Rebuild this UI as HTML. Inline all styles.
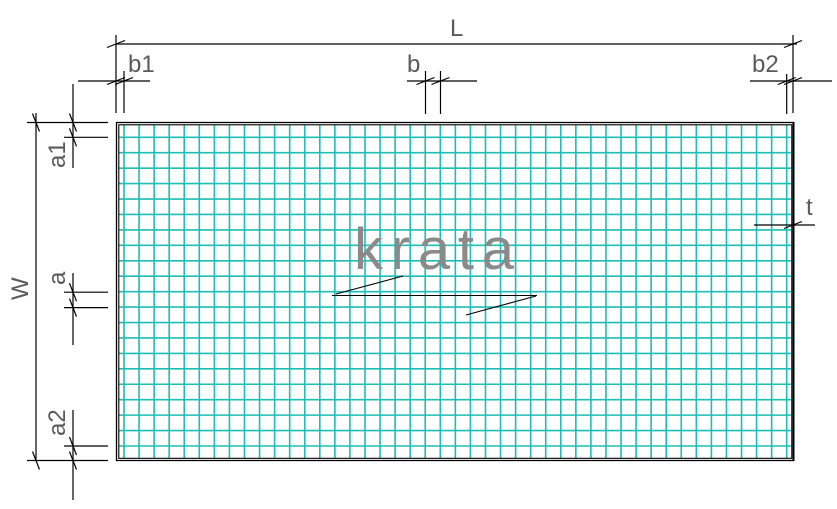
<!DOCTYPE html>
<html><head><meta charset="utf-8"><style>
html,body{margin:0;padding:0;background:#fff;}
svg{display:block;}
text{font-family:"Liberation Sans",sans-serif;fill:#5a5a5a;}
</style></head><body>
<svg id="d" width="837" height="509" viewBox="0 0 837 509" xmlns="http://www.w3.org/2000/svg">
<g id="grid" stroke="#1ebdb5" stroke-width="1.6"></g>
<rect x="116.5" y="122.5" width="677" height="338" fill="none" stroke="#000" stroke-width="1.3"/>
<rect x="118.8" y="124.8" width="673" height="333.5" fill="none" stroke="#000" stroke-width="1.1"/>
<line x1="793.5" y1="122" x2="793.5" y2="461" stroke="#000" stroke-width="2"/>
<g id="dims" stroke="#000" stroke-width="1.2" fill="none"></g>
<g font-size="24">
<text x="450" y="36">L</text>
<text x="128" y="72">b1</text>
<text x="407" y="72">b</text>
<text x="752" y="72">b2</text>
<text x="806" y="215">t</text>
<text transform="translate(65,168) rotate(-90)">a1</text>
<text transform="translate(65,285) rotate(-90)">a</text>
<text transform="translate(65,436) rotate(-90)">a2</text>
<text transform="translate(28,300) rotate(-90)">W</text>
</g>
<text x="354" y="269" font-size="58" textLength="160" lengthAdjust="spacing" style="fill:#8a8a8a">krata</text>
<g stroke="#000" stroke-width="1.1">
<line x1="332" y1="295.5" x2="537" y2="295.5"/>
<line x1="336" y1="294" x2="403" y2="276"/>
<line x1="466" y1="315" x2="536" y2="296"/>
</g>
</svg>
<script>
const ns="http://www.w3.org/2000/svg";
const g=document.getElementById('grid');
function L(p,x1,y1,x2,y2){const l=document.createElementNS(ns,'line');l.setAttribute('x1',x1);l.setAttribute('y1',y1);l.setAttribute('x2',x2);l.setAttribute('y2',y2);p.appendChild(l);return l;}
for(let i=0;i<=44;i++){const x=124+i*(662.7/44);const l=L(g,x,125,x,458);

}
for(let j=0;j<=20;j++){const y=137.3+j*(308.7/20);const l=L(g,119,y,791,y);

}
const d=document.getElementById('dims');
function th(x,y){L(d,x-9,y+3.5,x+9,y-3.5);}
function tv(x,y){L(d,x-3.5,y-9,x+3.5,y+9);}
L(d,116,44,797,44);L(d,116,35,116,113);L(d,793,35,793,113);th(116,44);th(793,44);
L(d,78,81,150,81);L(d,124,71,124,113);th(116,81);th(124,81);
L(d,407,81,477,81);L(d,425.5,71,425.5,114);L(d,440.5,71,440.5,114);th(425.5,81);th(440.5,81);
L(d,750,81,832,81);L(d,786.7,74,786.7,114);th(786.7,81);th(793,81);
L(d,754,225,815,225);th(793,225);
L(d,36,113,36,460);L(d,27,122.5,108,122.5);L(d,27,460.5,108,460.5);tv(36,122.5);tv(36,460.5);
L(d,73,84,73,168);L(d,64,137.3,108,137.3);tv(73,122.5);tv(73,137.3);
L(d,73,273,73,345);L(d,64,292.2,108,292.2);L(d,64,307.6,108,307.6);tv(73,292.2);tv(73,307.6);
L(d,73,410,73,500);L(d,64,446,108,446);tv(73,446);tv(73,460.5);
</script>
</body></html>
